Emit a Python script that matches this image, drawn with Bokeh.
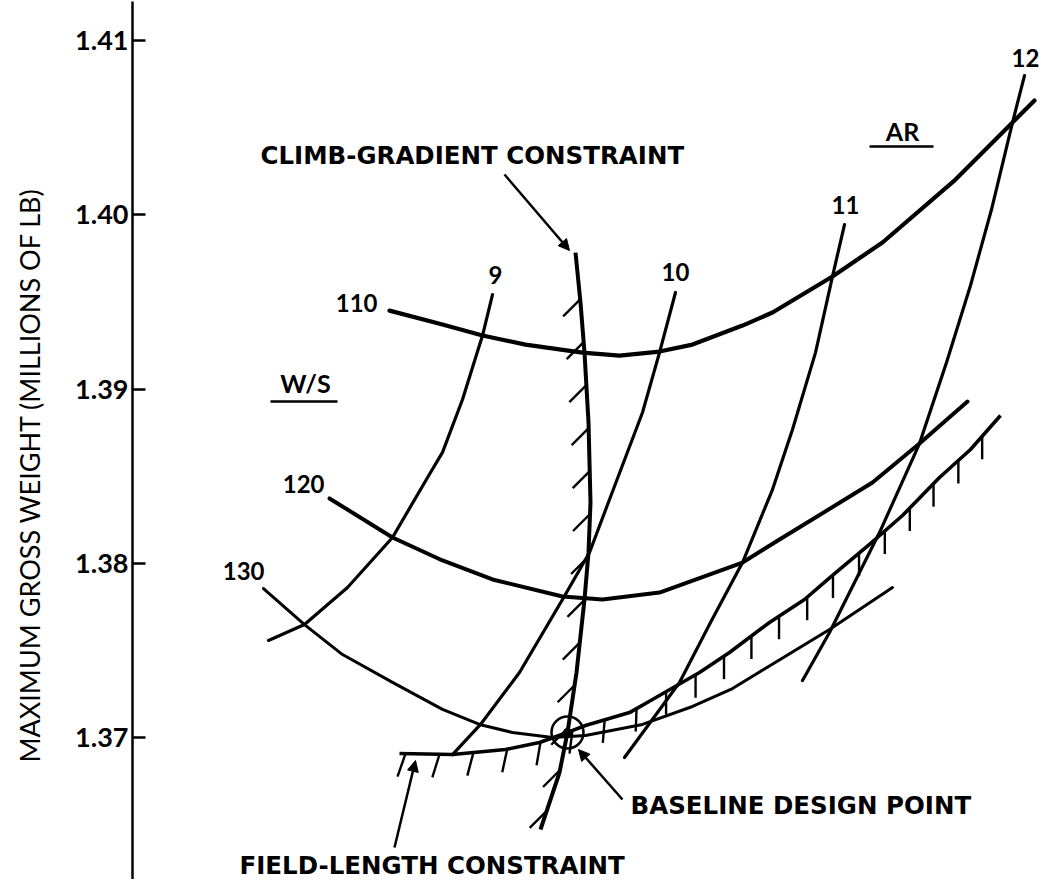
import numpy as np
from bokeh.plotting import figure
from bokeh.models import Range1d, FixedTicker, Arrow, NormalHead
from bokeh.core.properties import value
from bokeh.embed import file_html
from bokeh.resources import INLINE

# ---------------- data (carpet plot; abscissa is an arbitrary carpet offset) ----------------
TICKS = [1.37, 1.38, 1.39, 1.40, 1.41]
TICK_LABELS = ["1.37", "1.38", "1.39", "1.40", "1.41"]

WS_LEVELS = ["110", "120", "130"]
AR_LEVELS = ["9", "10", "11", "12"]

# W/S curves (carpet abscissa, max gross weight in millions of lb)
ws110_x = [25.7, 31.0, 35.0, 39.3, 45.0, 48.7, 52.7, 56.0, 61.0, 64.0, 70.0, 75.0, 82.3, 88.0, 90.2]
ws110_w = [1.39450, 1.39370, 1.39307, 1.39255, 1.39209, 1.39192, 1.39215, 1.39255, 1.39364,
           1.39439, 1.39646, 1.39841, 1.40202, 1.40529, 1.40656]

ws120_x = [19.7, 26.0, 31.0, 36.0, 43.0, 47.0, 52.7, 61.0, 64.7, 74.0, 78.7, 83.5]
ws120_w = [1.38372, 1.38148, 1.38016, 1.37907, 1.37809, 1.37792, 1.37832, 1.38004, 1.38136,
           1.38463, 1.38687, 1.38928]

ws130_x = [13.1, 17.2, 21.0, 26.0, 31.0, 34.7, 38.0, 42.0, 45.3, 51.0, 56.0, 60.0, 69.7, 76.0]
ws130_w = [1.37855, 1.37648, 1.37476, 1.37316, 1.37161, 1.37075, 1.37029, 1.37000, 1.37011,
           1.37075, 1.37178, 1.37281, 1.37620, 1.37861]

# AR curves (top to bottom)
ar9_x = [36.0, 35.0, 33.0, 31.0, 29.8, 26.0, 21.5, 17.2, 13.6]
ar9_w = [1.39542, 1.39307, 1.38940, 1.38636, 1.38521, 1.38148, 1.37861, 1.37648, 1.37557]

ar10_x = [54.3, 52.7, 51.0, 47.7, 45.7, 43.0, 38.7, 34.8, 32.0]
ar10_w = [1.39554, 1.39209, 1.38865, 1.38366, 1.38062, 1.37792, 1.37373, 1.37075, 1.36902]

ar11_x = [71.2, 70.0, 68.3, 66.0, 64.0, 61.0, 57.8, 54.7, 49.2]
ar11_w = [1.39944, 1.39646, 1.39209, 1.38768, 1.38423, 1.38004, 1.37660, 1.37316, 1.36885]

ar12_x = [89.2, 88.0, 85.9, 83.8, 81.4, 78.7, 74.7, 69.7, 67.0]
ar12_w = [1.40799, 1.40529, 1.40030, 1.39594, 1.39152, 1.38687, 1.38176, 1.37603, 1.37327]

# constraints
climb_x = [44.3, 44.8, 45.2, 45.6, 45.8, 45.6, 45.2, 44.4, 43.5, 42.7, 40.8]
climb_w = [1.39783, 1.39496, 1.39209, 1.38808, 1.38349, 1.38062, 1.37792, 1.37373, 1.37029,
           1.36799, 1.36472]

field_x = [26.7, 32.0, 37.3, 40.7, 43.5, 45.3, 49.7, 52.0, 56.7, 59.7, 63.7, 67.2, 70.0, 73.7,
           77.0, 80.7, 83.8, 86.8]
field_w = [1.36908, 1.36902, 1.36931, 1.36971, 1.37029, 1.37069, 1.37143, 1.37218, 1.37373,
           1.37488, 1.37660, 1.37792, 1.37930, 1.38108, 1.38274, 1.38492, 1.38653, 1.38848]

baseline_x = [43.5]
baseline_w = [1.37029]

Y_TITLE = "MAXIMUM GROSS WEIGHT (MILLIONS OF LB)"

# ---------------- figure ----------------
W, H = 1041, 879
BL, BT = 132, 1
X0, X1 = 0.0, 90.9
Y0, Y1 = 1.36185, 1.41224
PX_X = (W - BL) / (X1 - X0)          # px per x unit
PX_W = (H - BT) / (Y1 - Y0)          # px per weight unit

p = figure(width=W, height=H, output_backend="svg", toolbar_location=None,
           x_range=Range1d(X0, X1), y_range=Range1d(Y0, Y1),
           x_axis_type=None, min_border_left=BL, min_border_right=0,
           min_border_top=BT, min_border_bottom=0)
p.outline_line_color = None
p.grid.visible = False
p.background_fill_color = "white"
p.border_fill_color = "white"

ax = p.yaxis[0]
ax.ticker = FixedTicker(ticks=TICKS)
ax.major_label_overrides = {t: s for t, s in zip(TICKS, TICK_LABELS)}
ax.major_tick_in = 13
ax.major_tick_out = 0
ax.minor_tick_line_color = None
ax.axis_line_width = 2.5
ax.major_tick_line_width = 2.5
ax.axis_line_color = "black"
ax.major_tick_line_color = "black"
ax.major_label_text_font = "Lato"
ax.major_label_text_font_style = "bold"
ax.major_label_text_font_size = "27px"
ax.major_label_text_color = "black"
ax.major_label_standoff = 4
# trailing no-break spaces shift the centred title down to match the original placement
ax.axis_label = Y_TITLE + "\u00a0" * 10
ax.axis_label_text_font = "Lato"
ax.axis_label_text_font_style = "normal"
ax.axis_label_text_font_size = "27px"
ax.axis_label_text_color = "black"
ax.axis_label_standoff = 26

NUM_FONT = value("Lato")
TXT_FONT = value("DejaVu Sans")

# carpet lines
for xs, ws, lw in [(ws110_x, ws110_w, 4.2), (ws120_x, ws120_w, 4.0), (ws130_x, ws130_w, 3.0),
                   (ar9_x, ar9_w, 3.2), (ar10_x, ar10_w, 3.2), (ar11_x, ar11_w, 3.2),
                   (ar12_x, ar12_w, 3.2)]:
    p.line(xs, ws, line_color="black", line_width=lw, line_join="round", line_cap="round")

# constraint lines
p.line(climb_x, climb_w, line_color="black", line_width=4.0, line_join="round")
p.line(field_x, field_w, line_color="black", line_width=3.6, line_join="round")


def along(xs, ws, start, step):
    sx = np.asarray(xs) * PX_X
    sy = np.asarray(ws) * PX_W
    L = np.concatenate([[0.0], np.cumsum(np.hypot(np.diff(sx), np.diff(sy)))])
    d = np.arange(start, L[-1] - 4, step)
    return np.interp(d, L, sx) / PX_X, np.interp(d, L, sy) / PX_W


# climb-gradient hatches (down-left)
hx, hw = along(climb_x, climb_w, 47, 43)
p.segment(x0=hx, y0=hw, x1=hx - 17 / PX_X, y1=hw - 17 / PX_W, line_color="black", line_width=2.4)

# field-length hatches (downward, slanted on the left)
fx, fw = along(field_x, field_w, 6, 34)
px_pos = fx * PX_X + BL
dxs = -8 + 8 * np.clip((px_pos - 412) / 250, 0, 1)
p.segment(x0=fx, y0=fw, x1=fx + dxs / PX_X, y1=fw - 23 / PX_W, line_color="black", line_width=2.4)

# baseline design point
p.scatter(baseline_x, baseline_w, marker="circle", size=32, fill_color=None,
          line_color="black", line_width=2.5)
p.scatter(baseline_x, baseline_w, marker="circle", size=8, fill_color="black", line_color="black")

# arrows
for (xa, ya, xb, yb) in [(37.2, 1.40231, 43.7, 1.39795),
                         (26.2, 1.36369, 28.3, 1.36868),
                         (49.0, 1.36644, 44.6, 1.36931)]:
    p.add_layout(Arrow(end=NormalHead(size=11, fill_color="black", line_color="black"),
                       x_start=xa, y_start=ya, x_end=xb, y_end=yb,
                       line_color="black", line_width=2.5))

# W/S labels (left of each curve start)
p.text(x=[ws110_x[0] - 12 / PX_X, ws120_x[0] - 5 / PX_X, ws130_x[0] + 1 / PX_X],
       y=[ws110_w[0] + 8 / PX_W, ws120_w[0] + 14 / PX_W, ws130_w[0] + 18 / PX_W],
       text=WS_LEVELS, text_font=NUM_FONT, text_font_style="bold", text_font_size="24px",
       text_align="right", text_baseline="middle", text_color="black")

# AR labels (above each curve top)
p.text(x=[ar9_x[0] + 3 / PX_X, ar10_x[0], ar11_x[0] + 1 / PX_X, ar12_x[0] + 1 / PX_X],
       y=[ar9_w[0] + 20 / PX_W, ar10_w[0] + 20 / PX_W, ar11_w[0] + 20 / PX_W, ar12_w[0] + 18 / PX_W],
       text=AR_LEVELS, text_font=NUM_FONT, text_font_style="bold", text_font_size="24px",
       text_align="center", text_baseline="middle", text_color="black")

# group headings with underline
p.text(x=[77.0, 17.3], y=[1.40483, 1.39037], text=["AR", "W/S"], text_font=NUM_FONT,
       text_font_style="bold", text_font_size="25px", text_align="center",
       text_baseline="middle", text_color="black")
p.segment(x0=[73.7, 13.8], y0=[1.40392, 1.38928], x1=[80.1, 20.5], y1=[1.40392, 1.38928],
          line_color="black", line_width=2.5)

# annotations
p.text(x=[12.8, 49.8, 10.7], y=[1.40340, 1.36610, 1.36265],
       text=["CLIMB-GRADIENT CONSTRAINT", "BASELINE DESIGN POINT", "FIELD-LENGTH CONSTRAINT"],
       text_font=TXT_FONT, text_font_style="bold", text_font_size="24.5px", text_align="left",
       text_baseline="middle", text_color="black")

open("out.html", "w").write(file_html(p, INLINE))
